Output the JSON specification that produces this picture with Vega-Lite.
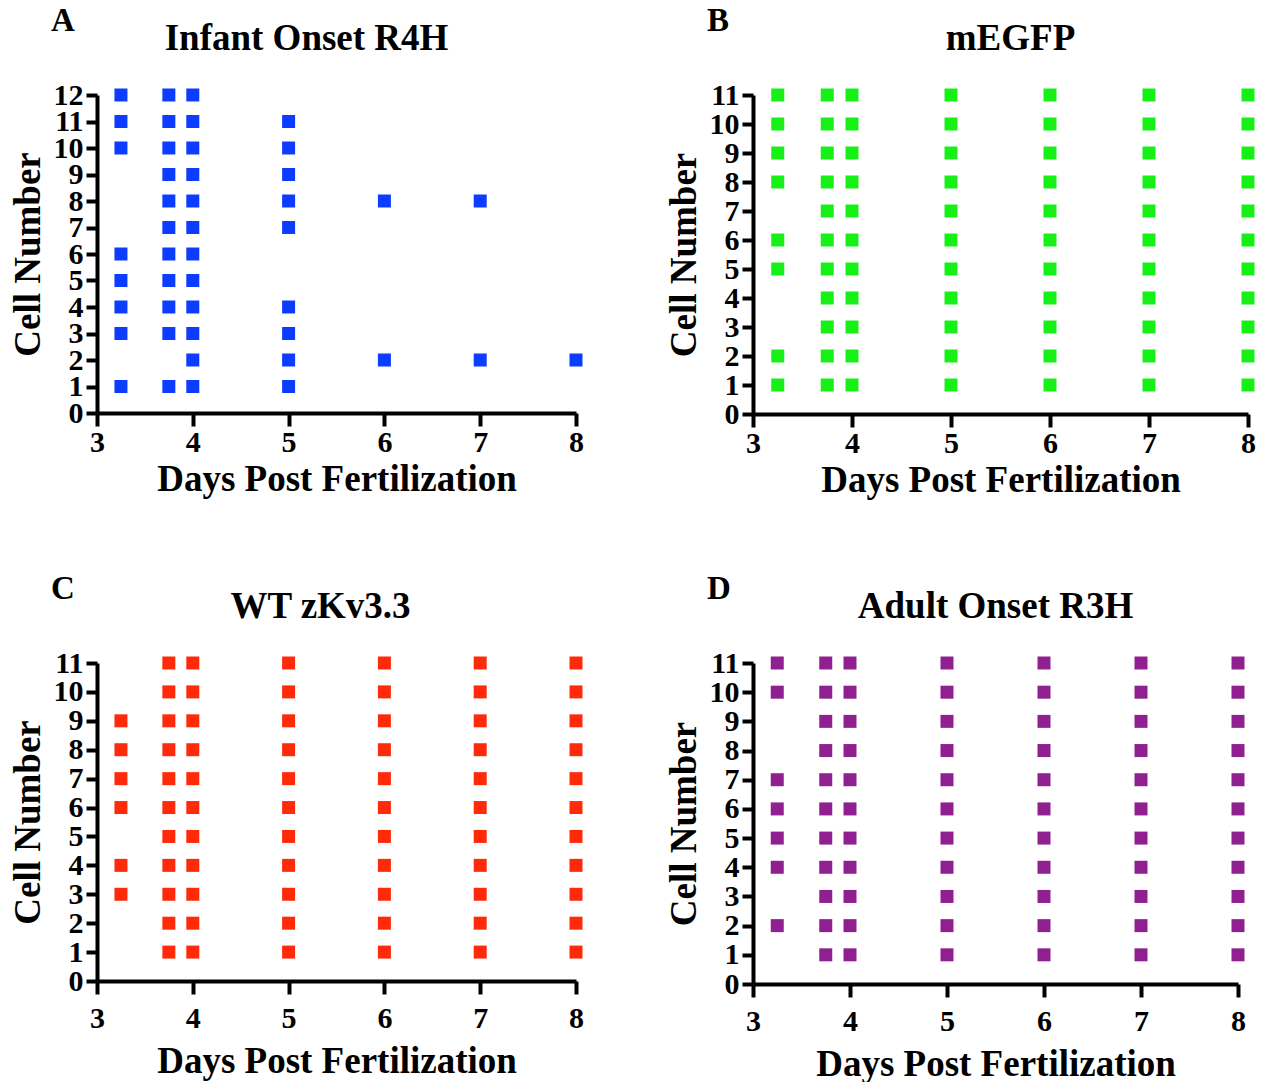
{
  "$schema": "https://vega.github.io/schema/vega-lite/v6.json",
  "padding": {"left": 9, "top": 5, "right": 2, "bottom": 2},
  "background": "white",
  "spacing": 75,
  "datasets": {
    "A": [
      {"d":3.25,"c":1},{"d":3.25,"c":3},{"d":3.25,"c":4},{"d":3.25,"c":5},{"d":3.25,"c":6},{"d":3.25,"c":10},{"d":3.25,"c":11},{"d":3.25,"c":12},
      {"d":3.75,"c":1},{"d":3.75,"c":3},{"d":3.75,"c":4},{"d":3.75,"c":5},{"d":3.75,"c":6},{"d":3.75,"c":7},{"d":3.75,"c":8},{"d":3.75,"c":9},{"d":3.75,"c":10},{"d":3.75,"c":11},{"d":3.75,"c":12},
      {"d":4,"c":1},{"d":4,"c":2},{"d":4,"c":3},{"d":4,"c":4},{"d":4,"c":5},{"d":4,"c":6},{"d":4,"c":7},{"d":4,"c":8},{"d":4,"c":9},{"d":4,"c":10},{"d":4,"c":11},{"d":4,"c":12},
      {"d":5,"c":1},{"d":5,"c":2},{"d":5,"c":3},{"d":5,"c":4},{"d":5,"c":7},{"d":5,"c":8},{"d":5,"c":9},{"d":5,"c":10},{"d":5,"c":11},
      {"d":6,"c":2},{"d":6,"c":8},
      {"d":7,"c":2},{"d":7,"c":8},
      {"d":8,"c":2}
    ],
    "B": [
      {"d":3.25,"c":1},{"d":3.25,"c":2},{"d":3.25,"c":5},{"d":3.25,"c":6},{"d":3.25,"c":8},{"d":3.25,"c":9},{"d":3.25,"c":10},{"d":3.25,"c":11},
      {"d":3.75,"c":1},{"d":3.75,"c":2},{"d":3.75,"c":3},{"d":3.75,"c":4},{"d":3.75,"c":5},{"d":3.75,"c":6},{"d":3.75,"c":7},{"d":3.75,"c":8},{"d":3.75,"c":9},{"d":3.75,"c":10},{"d":3.75,"c":11},
      {"d":4,"c":1},{"d":4,"c":2},{"d":4,"c":3},{"d":4,"c":4},{"d":4,"c":5},{"d":4,"c":6},{"d":4,"c":7},{"d":4,"c":8},{"d":4,"c":9},{"d":4,"c":10},{"d":4,"c":11},
      {"d":5,"c":1},{"d":5,"c":2},{"d":5,"c":3},{"d":5,"c":4},{"d":5,"c":5},{"d":5,"c":6},{"d":5,"c":7},{"d":5,"c":8},{"d":5,"c":9},{"d":5,"c":10},{"d":5,"c":11},
      {"d":6,"c":1},{"d":6,"c":2},{"d":6,"c":3},{"d":6,"c":4},{"d":6,"c":5},{"d":6,"c":6},{"d":6,"c":7},{"d":6,"c":8},{"d":6,"c":9},{"d":6,"c":10},{"d":6,"c":11},
      {"d":7,"c":1},{"d":7,"c":2},{"d":7,"c":3},{"d":7,"c":4},{"d":7,"c":5},{"d":7,"c":6},{"d":7,"c":7},{"d":7,"c":8},{"d":7,"c":9},{"d":7,"c":10},{"d":7,"c":11},
      {"d":8,"c":1},{"d":8,"c":2},{"d":8,"c":3},{"d":8,"c":4},{"d":8,"c":5},{"d":8,"c":6},{"d":8,"c":7},{"d":8,"c":8},{"d":8,"c":9},{"d":8,"c":10},{"d":8,"c":11}
    ],
    "C": [
      {"d":3.25,"c":3},{"d":3.25,"c":4},{"d":3.25,"c":6},{"d":3.25,"c":7},{"d":3.25,"c":8},{"d":3.25,"c":9},
      {"d":3.75,"c":1},{"d":3.75,"c":2},{"d":3.75,"c":3},{"d":3.75,"c":4},{"d":3.75,"c":5},{"d":3.75,"c":6},{"d":3.75,"c":7},{"d":3.75,"c":8},{"d":3.75,"c":9},{"d":3.75,"c":10},{"d":3.75,"c":11},
      {"d":4,"c":1},{"d":4,"c":2},{"d":4,"c":3},{"d":4,"c":4},{"d":4,"c":5},{"d":4,"c":6},{"d":4,"c":7},{"d":4,"c":8},{"d":4,"c":9},{"d":4,"c":10},{"d":4,"c":11},
      {"d":5,"c":1},{"d":5,"c":2},{"d":5,"c":3},{"d":5,"c":4},{"d":5,"c":5},{"d":5,"c":6},{"d":5,"c":7},{"d":5,"c":8},{"d":5,"c":9},{"d":5,"c":10},{"d":5,"c":11},
      {"d":6,"c":1},{"d":6,"c":2},{"d":6,"c":3},{"d":6,"c":4},{"d":6,"c":5},{"d":6,"c":6},{"d":6,"c":7},{"d":6,"c":8},{"d":6,"c":9},{"d":6,"c":10},{"d":6,"c":11},
      {"d":7,"c":1},{"d":7,"c":2},{"d":7,"c":3},{"d":7,"c":4},{"d":7,"c":5},{"d":7,"c":6},{"d":7,"c":7},{"d":7,"c":8},{"d":7,"c":9},{"d":7,"c":10},{"d":7,"c":11},
      {"d":8,"c":1},{"d":8,"c":2},{"d":8,"c":3},{"d":8,"c":4},{"d":8,"c":5},{"d":8,"c":6},{"d":8,"c":7},{"d":8,"c":8},{"d":8,"c":9},{"d":8,"c":10},{"d":8,"c":11}
    ],
    "D": [
      {"d":3.25,"c":2},{"d":3.25,"c":4},{"d":3.25,"c":5},{"d":3.25,"c":6},{"d":3.25,"c":7},{"d":3.25,"c":10},{"d":3.25,"c":11},
      {"d":3.75,"c":1},{"d":3.75,"c":2},{"d":3.75,"c":3},{"d":3.75,"c":4},{"d":3.75,"c":5},{"d":3.75,"c":6},{"d":3.75,"c":7},{"d":3.75,"c":8},{"d":3.75,"c":9},{"d":3.75,"c":10},{"d":3.75,"c":11},
      {"d":4,"c":1},{"d":4,"c":2},{"d":4,"c":3},{"d":4,"c":4},{"d":4,"c":5},{"d":4,"c":6},{"d":4,"c":7},{"d":4,"c":8},{"d":4,"c":9},{"d":4,"c":10},{"d":4,"c":11},
      {"d":5,"c":1},{"d":5,"c":2},{"d":5,"c":3},{"d":5,"c":4},{"d":5,"c":5},{"d":5,"c":6},{"d":5,"c":7},{"d":5,"c":8},{"d":5,"c":9},{"d":5,"c":10},{"d":5,"c":11},
      {"d":6,"c":1},{"d":6,"c":2},{"d":6,"c":3},{"d":6,"c":4},{"d":6,"c":5},{"d":6,"c":6},{"d":6,"c":7},{"d":6,"c":8},{"d":6,"c":9},{"d":6,"c":10},{"d":6,"c":11},
      {"d":7,"c":1},{"d":7,"c":2},{"d":7,"c":3},{"d":7,"c":4},{"d":7,"c":5},{"d":7,"c":6},{"d":7,"c":7},{"d":7,"c":8},{"d":7,"c":9},{"d":7,"c":10},{"d":7,"c":11},
      {"d":8,"c":1},{"d":8,"c":2},{"d":8,"c":3},{"d":8,"c":4},{"d":8,"c":5},{"d":8,"c":6},{"d":8,"c":7},{"d":8,"c":8},{"d":8,"c":9},{"d":8,"c":10},{"d":8,"c":11}
    ]
  },
  "config": {
    "font": "Liberation Serif",
    "view": {"stroke": null},
    "axis": {
      "grid": false,
      "domainColor": "black", "domainWidth": 4,
      "tickColor": "black", "tickWidth": 4, "tickSize": 11,
      "labelFont": "Liberation Serif", "labelFontWeight": "bold", "labelFontSize": 30, "labelColor": "black",
      "titleFont": "Liberation Serif", "titleFontWeight": "bold", "titleFontSize": 37, "titleColor": "black"
    },
    "title": {"font": "Liberation Serif", "fontWeight": "bold", "fontSize": 37, "color": "black"},
    "concat": {"spacing": 81}
  },
  "vconcat": [
    {
      "hconcat": [
        {
          "title": {"text": "A", "anchor": "start", "fontSize": 33, "dx": 42, "offset": -18},
          "vconcat": [{
            "title": {"text": "Infant Onset R4H", "offset": 22, "dx": -30},
            "width": 479, "height": 318,
            "data": {"name": "A"},
            "mark": {"type": "square", "size": 169, "opacity": 1, "color": "#0b3cff"},
            "encoding": {
              "x": {"field": "d", "type": "quantitative", "scale": {"domain": [3, 8]},
                "axis": {"title": "Days Post Fertilization", "format": "d", "values": [3,3.5,4,4.5,5,5.5,6,6.5,7,7.5,8], "labelExpr": "datum.value % 1 === 0 ? datum.label : ''", "labelFlush": false, "labelOverlap": false, "labelPadding": 1, "titlePadding": 4,
                  "tickSize": {"condition": {"test": "datum.value % 1 === 0", "value": 13}, "value": 8}}},
              "y": {"field": "c", "type": "quantitative", "scale": {"domain": [0, 12]},
                "axis": {"title": "Cell Number", "values": [0,1,2,3,4,5,6,7,8,9,10,11,12], "labelPadding": 3, "titlePadding": 6, "labelFlush": false, "labelOverlap": false}}
            }
          }]
        },
        {
          "title": {"text": "B", "anchor": "start", "fontSize": 33, "dx": 42, "offset": -18},
          "vconcat": [{
            "title": {"text": "mEGFP", "offset": 22, "dx": 10},
            "width": 495, "height": 319,
            "data": {"name": "B"},
            "mark": {"type": "square", "size": 169, "opacity": 1, "color": "#17f017"},
            "encoding": {
              "x": {"field": "d", "type": "quantitative", "scale": {"domain": [3, 8]},
                "axis": {"title": "Days Post Fertilization", "format": "d", "values": [3,3.5,4,4.5,5,5.5,6,6.5,7,7.5,8], "labelExpr": "datum.value % 1 === 0 ? datum.label : ''", "labelFlush": false, "labelOverlap": false, "labelPadding": 1, "titlePadding": 4,
                  "tickSize": {"condition": {"test": "datum.value % 1 === 0", "value": 13}, "value": 8}}},
              "y": {"field": "c", "type": "quantitative", "scale": {"domain": [0, 11]},
                "axis": {"title": "Cell Number", "values": [0,1,2,3,4,5,6,7,8,9,10,11], "labelPadding": 3, "titlePadding": 6, "labelFlush": false, "labelOverlap": false}}
            }
          }]
        }
      ]
    },
    {
      "hconcat": [
        {
          "title": {"text": "C", "anchor": "start", "fontSize": 33, "dx": 42, "offset": -18},
          "vconcat": [{
            "title": {"text": "WT zKv3.3", "offset": 22, "dx": -16},
            "width": 479, "height": 318,
            "data": {"name": "C"},
            "mark": {"type": "square", "size": 169, "opacity": 1, "color": "#ff2a0a"},
            "encoding": {
              "x": {"field": "d", "type": "quantitative", "scale": {"domain": [3, 8]},
                "axis": {"title": "Days Post Fertilization", "format": "d", "values": [3,3.5,4,4.5,5,5.5,6,6.5,7,7.5,8], "labelExpr": "datum.value % 1 === 0 ? datum.label : ''", "labelFlush": false, "labelOverlap": false, "labelPadding": 9, "titlePadding": 10,
                  "tickSize": {"condition": {"test": "datum.value % 1 === 0", "value": 13}, "value": 8}}},
              "y": {"field": "c", "type": "quantitative", "scale": {"domain": [0, 11]},
                "axis": {"title": "Cell Number", "values": [0,1,2,3,4,5,6,7,8,9,10,11], "labelPadding": 3, "titlePadding": 6, "labelFlush": false, "labelOverlap": false}}
            }
          }]
        },
        {
          "title": {"text": "D", "anchor": "start", "fontSize": 33, "dx": 42, "offset": -18},
          "vconcat": [{
            "title": {"text": "Adult Onset R3H", "offset": 22},
            "width": 485, "height": 321,
            "data": {"name": "D"},
            "mark": {"type": "square", "size": 169, "opacity": 1, "color": "#901f90"},
            "encoding": {
              "x": {"field": "d", "type": "quantitative", "scale": {"domain": [3, 8]},
                "axis": {"title": "Days Post Fertilization", "format": "d", "values": [3,3.5,4,4.5,5,5.5,6,6.5,7,7.5,8], "labelExpr": "datum.value % 1 === 0 ? datum.label : ''", "labelFlush": false, "labelOverlap": false, "labelPadding": 9, "titlePadding": 10,
                  "tickSize": {"condition": {"test": "datum.value % 1 === 0", "value": 13}, "value": 8}}},
              "y": {"field": "c", "type": "quantitative", "scale": {"domain": [0, 11]},
                "axis": {"title": "Cell Number", "values": [0,1,2,3,4,5,6,7,8,9,10,11], "labelPadding": 3, "titlePadding": 6, "labelFlush": false, "labelOverlap": false}}
            }
          }]
        }
      ]
    }
  ]
}
